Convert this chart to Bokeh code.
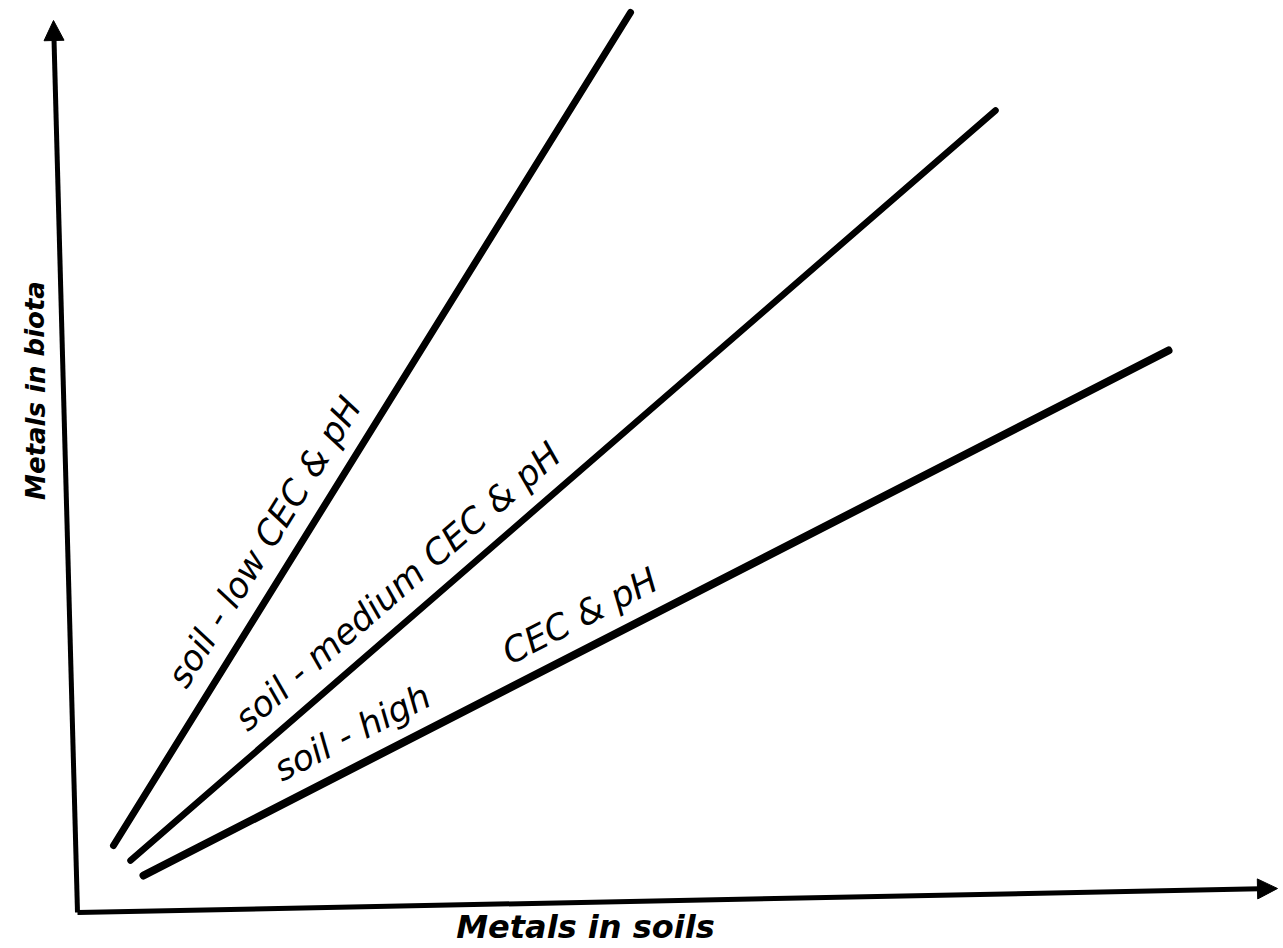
import math
from bokeh.plotting import figure
from bokeh.models import Range1d, Arrow, NormalHead, ColumnDataSource
from bokeh.core.properties import value
from bokeh.embed import file_html
from bokeh.resources import INLINE

# ---- schematic data (arbitrary units, origin at the axes' corner) ----
series_names = ["low", "medium", "high"]
series_x_start = [36, 53, 66]
series_y_start = [67, 52, 37]
series_x_end = [553, 918, 1091]
series_y_end = [900, 802, 562]

label_texts = ["soil - low  CEC & pH", "soil - medium  CEC & pH", "soil - high", "CEC & pH"]
label_series = [0, 1, 2, 2]          # which line each label follows
label_along = [0.350, 0.338, 0.218, 0.440]  # fraction along the line

x_axis_title = "Metals in soils"
y_axis_title = "Metals in biota"

# axis arrows (hand drawn, slightly tilted)
x_axis_end = (1200, 24)
y_axis_end = (-24, 892)

# ---- figure ----
W, H = 1280, 948
p = figure(width=W, height=H, output_backend="svg", toolbar_location=None,
           x_range=Range1d(-77, -77 + W), y_range=Range1d(912 - H, 912),
           min_border=0)
p.axis.visible = False
p.grid.visible = False
p.outline_line_color = None
p.background_fill_color = "white"
p.border_fill_color = "white"

line_widths = [7, 6.5, 8]
p.segment(x0=series_x_start, y0=series_y_start, x1=series_x_end, y1=series_y_end,
          line_color="black", line_width=line_widths, line_cap="round")

# labels placed parallel to their line
lx, ly, la = [], [], []
offset = 32
for i, s in enumerate(label_series):
    dx = series_x_end[s] - series_x_start[s]
    dy = series_y_end[s] - series_y_start[s]
    L = math.hypot(dx, dy)
    ux, uy = dx / L, dy / L
    t = label_along[i] * L
    lx.append(series_x_start[s] + ux * t - uy * offset)
    ly.append(series_y_start[s] + uy * t + ux * offset)
    la.append(math.atan2(dy, dx))

src = ColumnDataSource(dict(x=lx, y=ly, text=label_texts, angle=la))
p.text(x="x", y="y", text="text", angle="angle", source=src,
       text_align="center", text_baseline="middle",
       text_font=value("DejaVu Sans"), text_font_style="italic",
       text_font_size="35px", text_color="black")

# axes with arrows
for end in (x_axis_end, y_axis_end):
    p.add_layout(Arrow(x_start=0, y_start=0, x_end=end[0], y_end=end[1],
                       line_width=5, line_color="black",
                       end=NormalHead(size=20, fill_color="black", line_color="black", line_width=1)))

p.text(x=[508], y=[-14], text=[x_axis_title], text_align="center", text_baseline="middle",
       text_font=value("DejaVu Sans"), text_font_style="bold italic",
       text_font_size="32px", text_color="black")
p.text(x=[-42], y=[522], text=[y_axis_title], angle=[math.pi / 2],
       text_align="center", text_baseline="middle",
       text_font=value("DejaVu Sans"), text_font_style="bold italic",
       text_font_size="26px", text_color="black")

open("out.html", "w").write(file_html(p, INLINE))
